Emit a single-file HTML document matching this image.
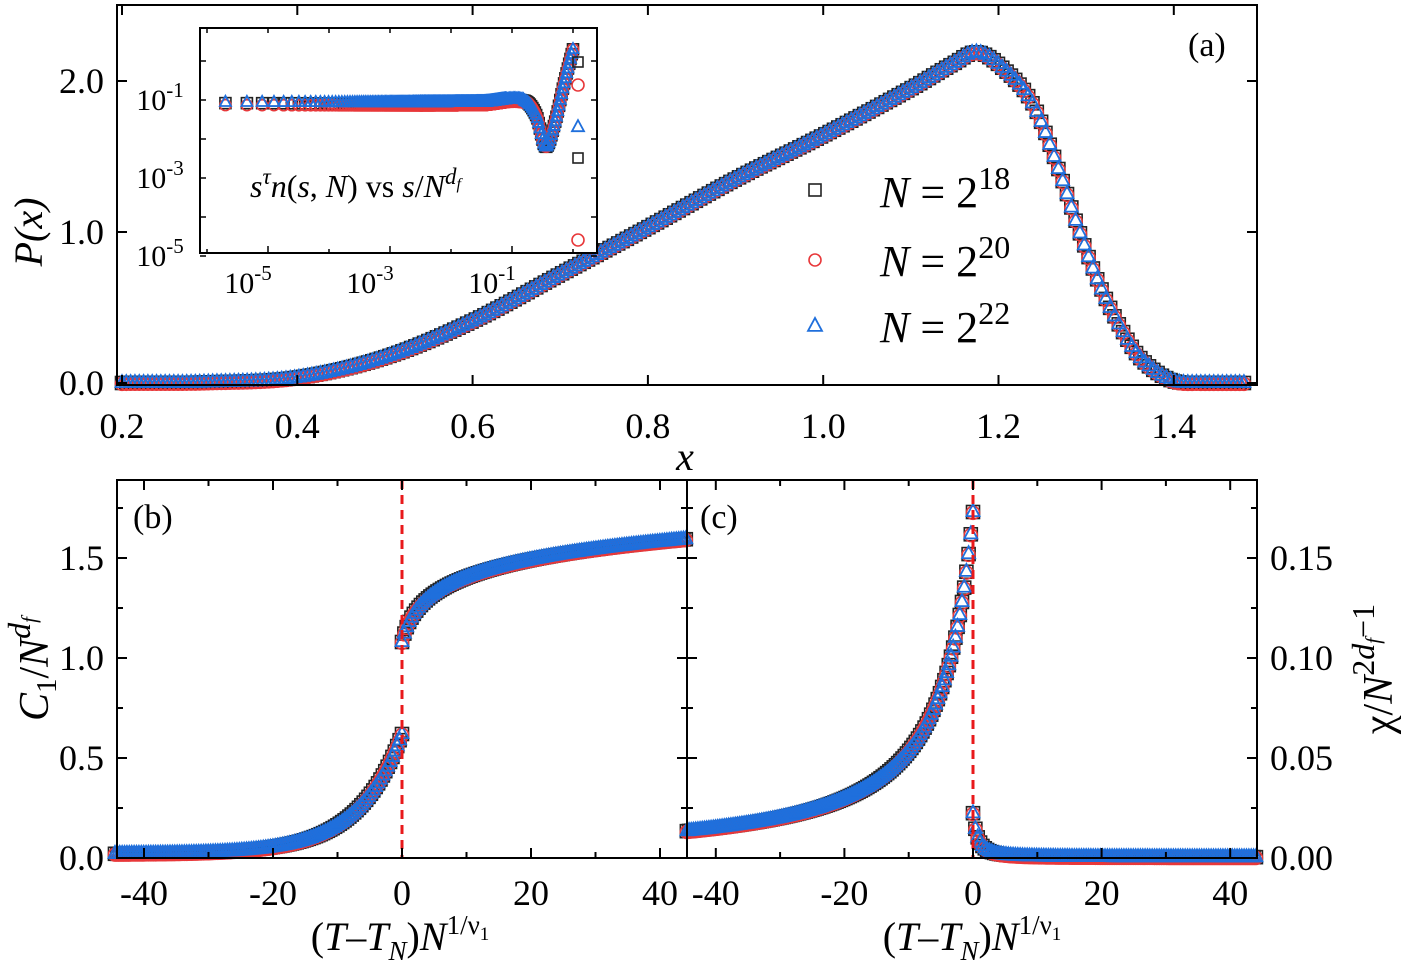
<!DOCTYPE html>
<html><head><meta charset="utf-8"><style>
html,body{margin:0;padding:0;background:#fff}
svg{display:block;font-family:"Liberation Serif",serif}
svg text{font-family:"Liberation Serif",serif}
</style></head><body>
<svg id="s" width="1410" height="973" font-family="Liberation Serif, serif" xmlns="http://www.w3.org/2000/svg"></svg>
<script>
const S=document.getElementById('s');let h='';
function interp(p,x){const n=p.length;if(x<=p[0][0])return p[0][1];if(x>=p[n-1][0])return p[n-1][1];
 let i=1;while(x>p[i][0])i++;const a=p[i-1],b=p[i];const a0=p[Math.max(i-2,0)],b1=p[Math.min(i+1,n-1)];
 const t=(x-a[0])/(b[0]-a[0]);const dx=b[0]-a[0];
 const m0=(b[1]-a0[1])/(b[0]-a0[0])*dx, m1=(b1[1]-a[1])/(b1[0]-a[0])*dx;
 const t2=t*t,t3=t2*t;return (2*t3-3*t2+1)*a[1]+(t3-2*t2+t)*m0+(-2*t3+3*t2)*b[1]+(t3-t2)*m1;}
function sq(x,y,c,r){return `<rect x="${x-r}" y="${y-r}" width="${2*r}" height="${2*r}" fill="none" stroke="${c}" stroke-width="1.6"/>`}
function ci(x,y,c,r){return `<circle cx="${x}" cy="${y}" r="${r}" fill="none" stroke="${c}" stroke-width="1.6"/>`}
function tr(x,y,c,r){return `<polygon points="${x},${y-r*1.15} ${x-r},${y+r*0.7} ${x+r},${y+r*0.7}" fill="none" stroke="${c}" stroke-width="1.8"/>`}
const BK='#222',RD='#e8383a',BL='#1f6fdc';
function seriesF(px,py,f,x0,x1,n,off,r){let s='';const L=[[sq,BK,0],[ci,RD,off],[tr,BL,-off*0.5]];
 for(const [fn,c,o] of L){for(let i=0;i<=n;i++){const x=x0+(x1-x0)*i/n;s+=fn(px(x),py(f(x))+o,c,r);}}return s;}
// Panel a
const ax=x=>122+(x-0.2)*876.5, ay=y=>383-y*151;
const P=[[0.2,0],[0.3,0.004],[0.4,0.035],[0.5,0.17],[0.6,0.41],[0.7,0.72],[0.8,1.03],[0.9,1.35],[1.0,1.64],[1.1,1.95],[1.15,2.12],[1.175,2.19],[1.202,2.1],[1.239,1.85],[1.27,1.39],[1.293,0.99],[1.316,0.64],[1.339,0.37],[1.361,0.17],[1.396,0.02],[1.43,0],[1.5,0]];
h+=seriesF(ax,ay,x=>Math.max(0,interp(P,x)),0.2,1.48,260,0.8,6.5);
h+=`<rect x="117" y="5" width="1140" height="380" fill="none" stroke="#000" stroke-width="2"/>`;
for(let i=0;i<7;i++){const x=ax(0.2+i*0.2);h+=`<line x1="${x}" y1="385" x2="${x}" y2="375" stroke="#000" stroke-width="2"/><line x1="${x}" y1="5" x2="${x}" y2="15" stroke="#000" stroke-width="2"/>`;
 h+=`<text x="${x}" y="438" font-size="36" text-anchor="middle">${(0.2+i*0.2).toFixed(1)}</text>`;}
for(let i=0;i<3;i++){const y=ay(i);h+=`<line x1="117" y1="${y}" x2="127" y2="${y}" stroke="#000" stroke-width="2"/><line x1="1257" y1="${y}" x2="1247" y2="${y}" stroke="#000" stroke-width="2"/><text x="104" y="${y+12}" font-size="36" text-anchor="end">${i.toFixed(1)}</text>`;}
h+=`<text x="685" y="470" font-size="40" font-style="italic" text-anchor="middle">x</text>`;
h+=`<text transform="translate(42,232) rotate(-90)" font-size="40" font-style="italic" text-anchor="middle">P(x)</text>`;
h+=`<text x="1188" y="56" font-size="34">(a)</text>`;
h+=sq(815,190,BK,6)+ci(815,260,RD,6)+tr(815,326,BL,7);
const lg=(y,e)=>`<text x="880" y="${y}" font-size="44"><tspan font-style="italic">N</tspan> = 2<tspan dy="-18" font-size="32">${e}</tspan></text>`;
h+=lg(207,18)+lg(276,20)+lg(342,22);
// inset
h+=`<rect x="200" y="28" width="397" height="225" fill="#fff" stroke="#000" stroke-width="2"/>`;
const ix=l=>268+(l+5)*61, iy=l=>100-(l+1)*39;
let ins='';
const IP=[[-6,-1.08],[-1.5,-1.08],[-0.8,-1.02],[-0.6,-1.4],[-0.45,-2.2],[-0.3,-1.6],[-0.15,-0.6],[0,0.3]];
for(const [fn,c,o] of [[sq,BK,0],[ci,RD,2],[tr,BL,-1]]){let xs=[];for(let k=1;k<=400;k++){const l=Math.log10(k*k)-6.3;if(l<=0.02)xs.push(l);}
 for(let i=0;i<=120;i++)xs.push(-2.5+2.5*i/120);
 for(const l of xs){if(l<-6.05)continue;ins+=fn(ix(l),iy(interp(IP,l))+(l<-0.8?o:0),c,5.5);}}
ins+=tr(578,127,BL,6)+sq(578,158,BK,5)+ci(578,85,RD,6)+ci(578,240,RD,6)+sq(578,62,BK,5);
h+=`<g>${ins}</g>`;
for(let l=-6;l<=0;l++){h+=`<line x1="${ix(l)}" y1="253" x2="${ix(l)}" y2="${l%2?246:249}" stroke="#000" stroke-width="1.5"/><line x1="${ix(l)}" y1="28" x2="${ix(l)}" y2="33" stroke="#000" stroke-width="1.5"/>`;}
for(let l=-5;l<=0;l++){h+=`<line x1="200" y1="${iy(l)}" x2="206" y2="${iy(l)}" stroke="#000" stroke-width="1.5"/><line x1="597" y1="${iy(l)}" x2="591" y2="${iy(l)}" stroke="#000" stroke-width="1.5"/>`;}
for(const l of [-1,-3,-5]){h+=`<text x="${ix(l)-20}" y="293" font-size="30" text-anchor="middle">10<tspan dy="-13" font-size="21">${l}</tspan></text>`;
 h+=`<text x="160" y="${iy(l)+10}" font-size="30" text-anchor="middle">10<tspan dy="-13" font-size="21">${l}</tspan></text>`;}
h+=`<text x="250" y="197" font-size="32" font-style="italic">s<tspan dy="-13" font-size="23">τ</tspan><tspan dy="13">n</tspan><tspan font-style="normal">(</tspan>s<tspan font-style="normal">, </tspan>N<tspan font-style="normal">)  vs  </tspan>s<tspan font-style="normal">/</tspan>N<tspan dy="-13" font-size="23">d<tspan font-size="16" dy="5">f</tspan></tspan></text>`;
// Panel b
const bx=x=>402+x*6.45, by=y=>858-y*200;
h+=seriesF(bx,by,x=>0.02+0.6*Math.exp(x/7),-44.5,0,120,0.8,6.5)+seriesF(bx,by,x=>1.08+0.135*Math.log(1+x),0,44,120,0.8,6.5);
h+=`<line x1="402" y1="480" x2="402" y2="858" stroke="#e8191b" stroke-width="3" stroke-dasharray="9,6"/>`;
// Panel c
const cx=x=>973+x*6.43, cy=y=>858-y*2000;
h+=seriesF(cx,cy,x=>0.173*Math.pow(1-x/6,-1.2),-44.5,0,130,0.8,6.5)+seriesF(cx,cy,x=>0.022*Math.pow(1+x/1.5,-2)+0.0004,0,44,120,0.8,6.5);
h+=`<line x1="973" y1="480" x2="973" y2="858" stroke="#e8191b" stroke-width="3" stroke-dasharray="9,6"/>`;
h+=`<rect x="117" y="480" width="1140" height="378" fill="none" stroke="#000" stroke-width="2"/><line x1="687" y1="480" x2="687" y2="858" stroke="#000" stroke-width="2"/>`;
for(let v=-40;v<=40;v+=10){for(const f of [bx,cx]){const x=f(v);const L=v%20?6:10;
 h+=`<line x1="${x}" y1="858" x2="${x}" y2="${858-L}" stroke="#000" stroke-width="2"/><line x1="${x}" y1="480" x2="${x}" y2="${480+L}" stroke="#000" stroke-width="2"/>`;
 if(v%20==0)h+=`<text x="${x}" y="905" font-size="36" text-anchor="middle">${v}</text>`;}}
for(let k=0;k<=7;k++){const y=858-k*50;const L=k%2?6:10;
 h+=`<line x1="117" y1="${y}" x2="${117+L}" y2="${y}" stroke="#000" stroke-width="2"/><line x1="687" y1="${y}" x2="${687-L}" y2="${y}" stroke="#000" stroke-width="2"/><line x1="687" y1="${y}" x2="${687+L}" y2="${y}" stroke="#000" stroke-width="2"/><line x1="1257" y1="${y}" x2="${1257-L}" y2="${y}" stroke="#000" stroke-width="2"/>`;
 if(k%2==0&&k<=6){h+=`<text x="104" y="${y+12}" font-size="36" text-anchor="end">${(k/4).toFixed(1)}</text><text x="1270" y="${y+12}" font-size="36">${(k*0.025).toFixed(2)}</text>`;}}
h+=`<text x="133" y="528" font-size="34">(b)</text><text x="700" y="528" font-size="34">(c)</text>`;
const xl=x=>`<text x="${x}" y="950" font-size="40" text-anchor="middle">(<tspan font-style="italic">T</tspan>–<tspan font-style="italic">T</tspan><tspan dy="10" font-size="27" font-style="italic">N</tspan><tspan dy="-10">)</tspan><tspan font-style="italic">N</tspan><tspan dy="-16" font-size="27">1/ν<tspan dy="6" font-size="19">1</tspan></tspan></text>`;
h+=xl(400)+xl(972);
h+=`<text transform="translate(48,669) rotate(-90)" font-size="42" text-anchor="middle"><tspan font-style="italic">C</tspan><tspan dy="8" font-size="29">1</tspan><tspan dy="-8">/</tspan><tspan font-style="italic">N</tspan><tspan dy="-18" font-size="32" font-style="italic">d<tspan dy="6" font-size="21">f</tspan></tspan></text>`;
h+=`<text transform="translate(1392,669) rotate(-90)" font-size="42" text-anchor="middle">χ/<tspan font-style="italic">N</tspan><tspan dy="-18" font-size="32">2<tspan font-style="italic">d</tspan><tspan dy="6" font-size="21" font-style="italic">f</tspan><tspan dy="-6">−1</tspan></tspan></text>`;
S.innerHTML=h;
</script>
</body></html>
